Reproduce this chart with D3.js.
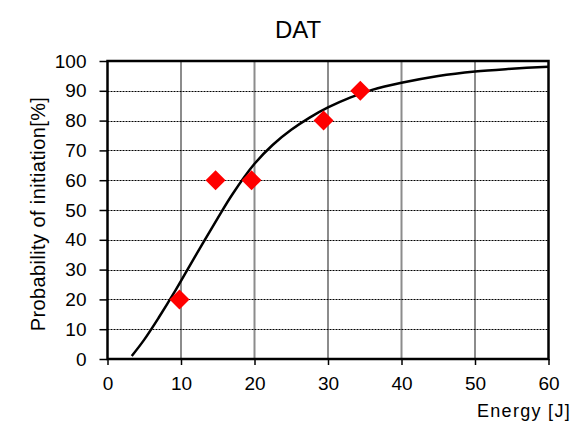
<!DOCTYPE html>
<html>
<head>
<meta charset="utf-8">
<script src="https://cdn.jsdelivr.net/npm/d3@7/dist/d3.min.js"></script>
<style>
  html, body { margin: 0; padding: 0; background: #fff; }
  svg { display: block; font-family: "Liberation Sans", Arial, sans-serif; }
</style>
</head>
<body>
<svg id="chart" width="573" height="423"></svg>
<script>
// Measured initiation probabilities
const energy = [9.8, 14.7, 19.6, 29.4, 34.4];
const probability = [20, 60, 60, 80, 90];

// Fitted probability curve (sampled)
const curveEnergy = [3.3, 5, 7, 9, 11, 13, 15, 17, 20, 22.5, 25, 27.5, 30, 33, 36, 40, 45, 50, 55, 60];
const curveProb   = [1.0, 6.5, 14.0, 22.0, 30.5, 39.0, 47.3, 55.3, 65.5, 71.9, 76.9, 81.0, 84.4, 87.7, 90.3, 92.7, 95.0, 96.5, 97.4, 98.1];

const xTicks = [0, 10, 20, 30, 40, 50, 60];
const yTicks = [0, 10, 20, 30, 40, 50, 60, 70, 80, 90, 100];

const svg = d3.select("#chart");
const plotL = 107.5, plotR = 548.5, plotT = 61, plotB = 359;

const x = d3.scaleLinear().domain([0, 60]).range([plotL, plotR]);
const y = d3.scaleLinear().domain([0, 100]).range([plotB, plotT]);

// vertical grid (solid grey)
svg.append("g").selectAll("line")
  .data(xTicks.filter(d => d > 0 && d < 60))
  .join("line")
  .attr("x1", d => x(d)).attr("x2", d => x(d))
  .attr("y1", plotT).attr("y2", plotB)
  .attr("stroke", "#8c8c8c").attr("stroke-width", 2);

// horizontal grid (dotted black)
svg.append("g").selectAll("line")
  .data(yTicks.filter(d => d > 0 && d < 100))
  .join("line")
  .attr("x1", plotL).attr("x2", plotR)
  .attr("y1", d => Math.round(y(d)) + 0.5).attr("y2", d => Math.round(y(d)) + 0.5)
  .attr("stroke", "#000").attr("stroke-width", 1)
  .attr("stroke-dasharray", "2,1");

// plot frame
svg.append("rect")
  .attr("x", plotL).attr("y", plotT)
  .attr("width", plotR - plotL).attr("height", plotB - plotT)
  .attr("fill", "none").attr("stroke", "#000").attr("stroke-width", 2.5);

// axes
const yAxis = d3.axisLeft(y).tickValues(yTicks).tickSize(8).tickPadding(13);
const xAxis = d3.axisBottom(x).tickValues(xTicks).tickSize(6).tickPadding(12);

const gy = svg.append("g").attr("transform", `translate(${plotL},0)`).call(yAxis);
const gx = svg.append("g").attr("transform", `translate(0,${plotB})`).call(xAxis);
[gx, gy].forEach(g => {
  g.select(".domain").remove();
  g.selectAll(".tick line").attr("stroke", "#000").attr("stroke-width", 1.5);
  g.selectAll(".tick text").attr("fill", "#000")
    .style("font-size", "19px").style("font-family", "'Liberation Sans', Arial, sans-serif");
});

// fitted curve
const curvePts = curveEnergy.map((e, i) => [e, curveProb[i]]);
svg.append("path")
  .datum(curvePts)
  .attr("d", d3.line().x(d => x(d[0])).y(d => y(d[1])).curve(d3.curveCatmullRom.alpha(0.5)))
  .attr("fill", "none").attr("stroke", "#000").attr("stroke-width", 2.5);

// data markers (red diamonds)
svg.append("g").selectAll("path")
  .data(energy.map((e, i) => [e, probability[i]]))
  .join("path")
  .attr("transform", d => `translate(${x(d[0])},${y(d[1])})`)
  .attr("d", "M0,-10L10,0L0,10L-10,0Z")
  .attr("fill", "#ff0000");

// title and axis labels
svg.append("text")
  .attr("x", 298).attr("y", 37.5).attr("text-anchor", "middle")
  .style("font-size", "24px").text("DAT");

svg.append("text")
  .attr("x", 571).attr("y", 417).attr("text-anchor", "end")
  .style("font-size", "18px").style("letter-spacing", "1.3px").text("Energy [J]");

svg.append("text")
  .attr("transform", "translate(45,214) rotate(-90)")
  .attr("text-anchor", "middle")
  .style("font-size", "20px").style("letter-spacing", "0.4px").text("Probability of initiation[%]");
</script>
</body>
</html>
